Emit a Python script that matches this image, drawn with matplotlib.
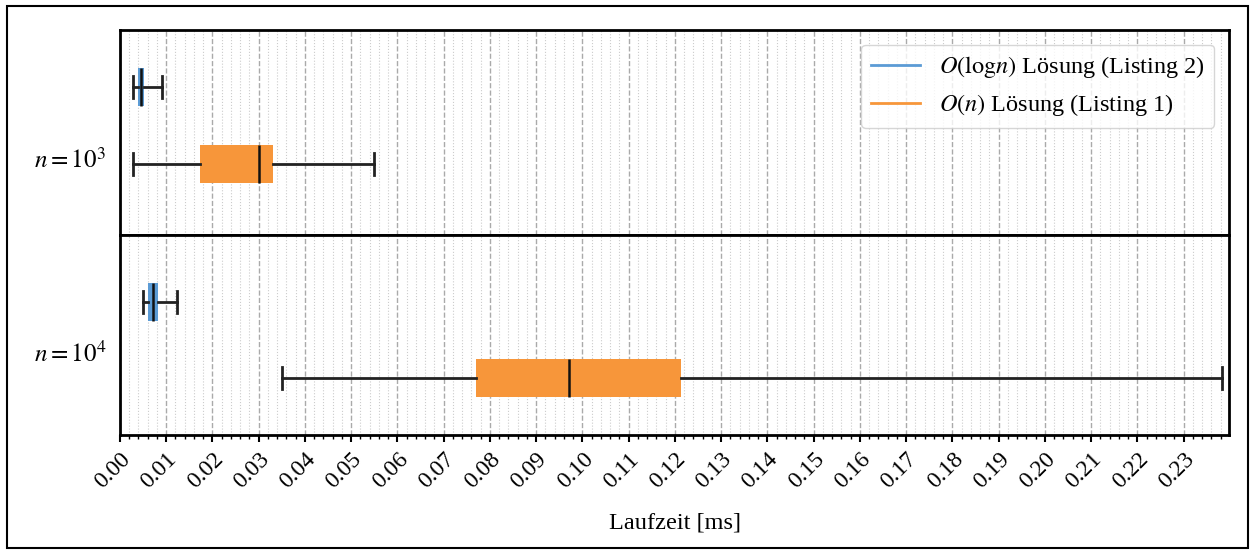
import matplotlib
matplotlib.use("Agg")
import matplotlib.pyplot as plt
from matplotlib.lines import Line2D
from matplotlib.patches import Rectangle
from matplotlib.ticker import MultipleLocator, FormatStrFormatter

plt.rcParams['font.family'] = ['Liberation Serif', 'DejaVu Serif']
plt.rcParams['mathtext.fontset'] = 'stix'

# Laufzeiten in ms, gelesen aus dem Bild: (whislo, q1, med, q3, whishi)
groups = [r'$n = 10^3$', r'$n = 10^4$']
log_stats = [(0.0028, 0.0039, 0.0045, 0.0052, 0.0091),
             (0.0050, 0.0060, 0.0071, 0.0082, 0.0123)]
lin_stats = [(0.0028, 0.0173, 0.0300, 0.0331, 0.0549),
             (0.0350, 0.0770, 0.0970, 0.1213, 0.2383)]
labels = [r'$O(\mathrm{log}n)$ Lösung (Listing 2)', r'$O(n)$ Lösung (Listing 1)']
colors = ['#5b9bd5', '#f7963a']

def to_bxp(s):
    lo, q1, med, q3, hi = s
    return dict(whislo=lo, q1=q1, med=med, q3=q3, whishi=hi, fliers=[])

fig = plt.figure(figsize=(12.54, 5.5), dpi=100)
W, H = 1254, 550
top_ax = fig.add_axes([120 / W, 1 - 235 / H, 1109 / W, 205 / H])
bot_ax = fig.add_axes([120 / W, 1 - 435 / H, 1109 / W, 200 / H], sharex=top_ax)

ylims = [(0.08, 2.74), (0.25, 2.88)]
label_pos = [1.08, 1.34]

for k, ax in enumerate([top_ax, bot_ax]):
    stats = [to_bxp(lin_stats[k]), to_bxp(log_stats[k])]
    bp = ax.bxp(stats, positions=[1, 2], vert=False, widths=0.5,
                patch_artist=True, showfliers=False, capwidths=0.28,
                boxprops=dict(linewidth=0),
                whiskerprops=dict(color='#222222', linewidth=2),
                capprops=dict(color='#222222', linewidth=2),
                medianprops=dict(color='#111111', linewidth=1.8))
    for patch, c in zip(bp['boxes'], [colors[1], colors[0]]):
        patch.set_facecolor(c)
        patch.set_edgecolor(c)
    ax.set_ylim(*ylims[k])
    ax.set_yticks([label_pos[k]])
    ax.set_yticklabels([groups[k]], fontsize=18)
    ax.tick_params(axis='y', length=0, pad=10)
    ax.xaxis.set_major_locator(MultipleLocator(0.01))
    ax.xaxis.set_minor_locator(MultipleLocator(0.002))
    ax.grid(axis='x', which='major', linestyle='--', color='#aaaaaa', linewidth=1)
    ax.grid(axis='x', which='minor', linestyle=':', color='#cccccc', linewidth=0.8)
    ax.set_axisbelow(True)
    for sp in ax.spines.values():
        sp.set_linewidth(2)

top_ax.set_xlim(0, 0.2398)
top_ax.tick_params(axis='x', which='both', bottom=False, labelbottom=False)
bot_ax.xaxis.set_major_formatter(FormatStrFormatter('%.2f'))
bot_ax.set_xticks([i / 100 for i in range(24)])
bot_ax.tick_params(axis='x', which='major', length=5, width=1.5, labelsize=17, pad=5)
bot_ax.tick_params(axis='x', which='minor', length=3, width=1)
plt.setp(bot_ax.get_xticklabels(), rotation=45, ha='right', rotation_mode='anchor')
bot_ax.set_xlabel('Laufzeit [ms]', fontsize=17.5, labelpad=14)

handles = [Line2D([], [], color=colors[0], linewidth=2),
           Line2D([], [], color=colors[1], linewidth=2)]
top_ax.legend(handles, labels, loc='upper right', fontsize=17.5,
              fancybox=True, framealpha=0.8, edgecolor='#cccccc',
              borderaxespad=0.6)

fig.patches.append(Rectangle((7 / W, 1 - 548 / H), 1241 / W, 542 / H,
                             transform=fig.transFigure, fill=False,
                             edgecolor='black', linewidth=1.5))

fig.savefig('out.png', dpi=100)
